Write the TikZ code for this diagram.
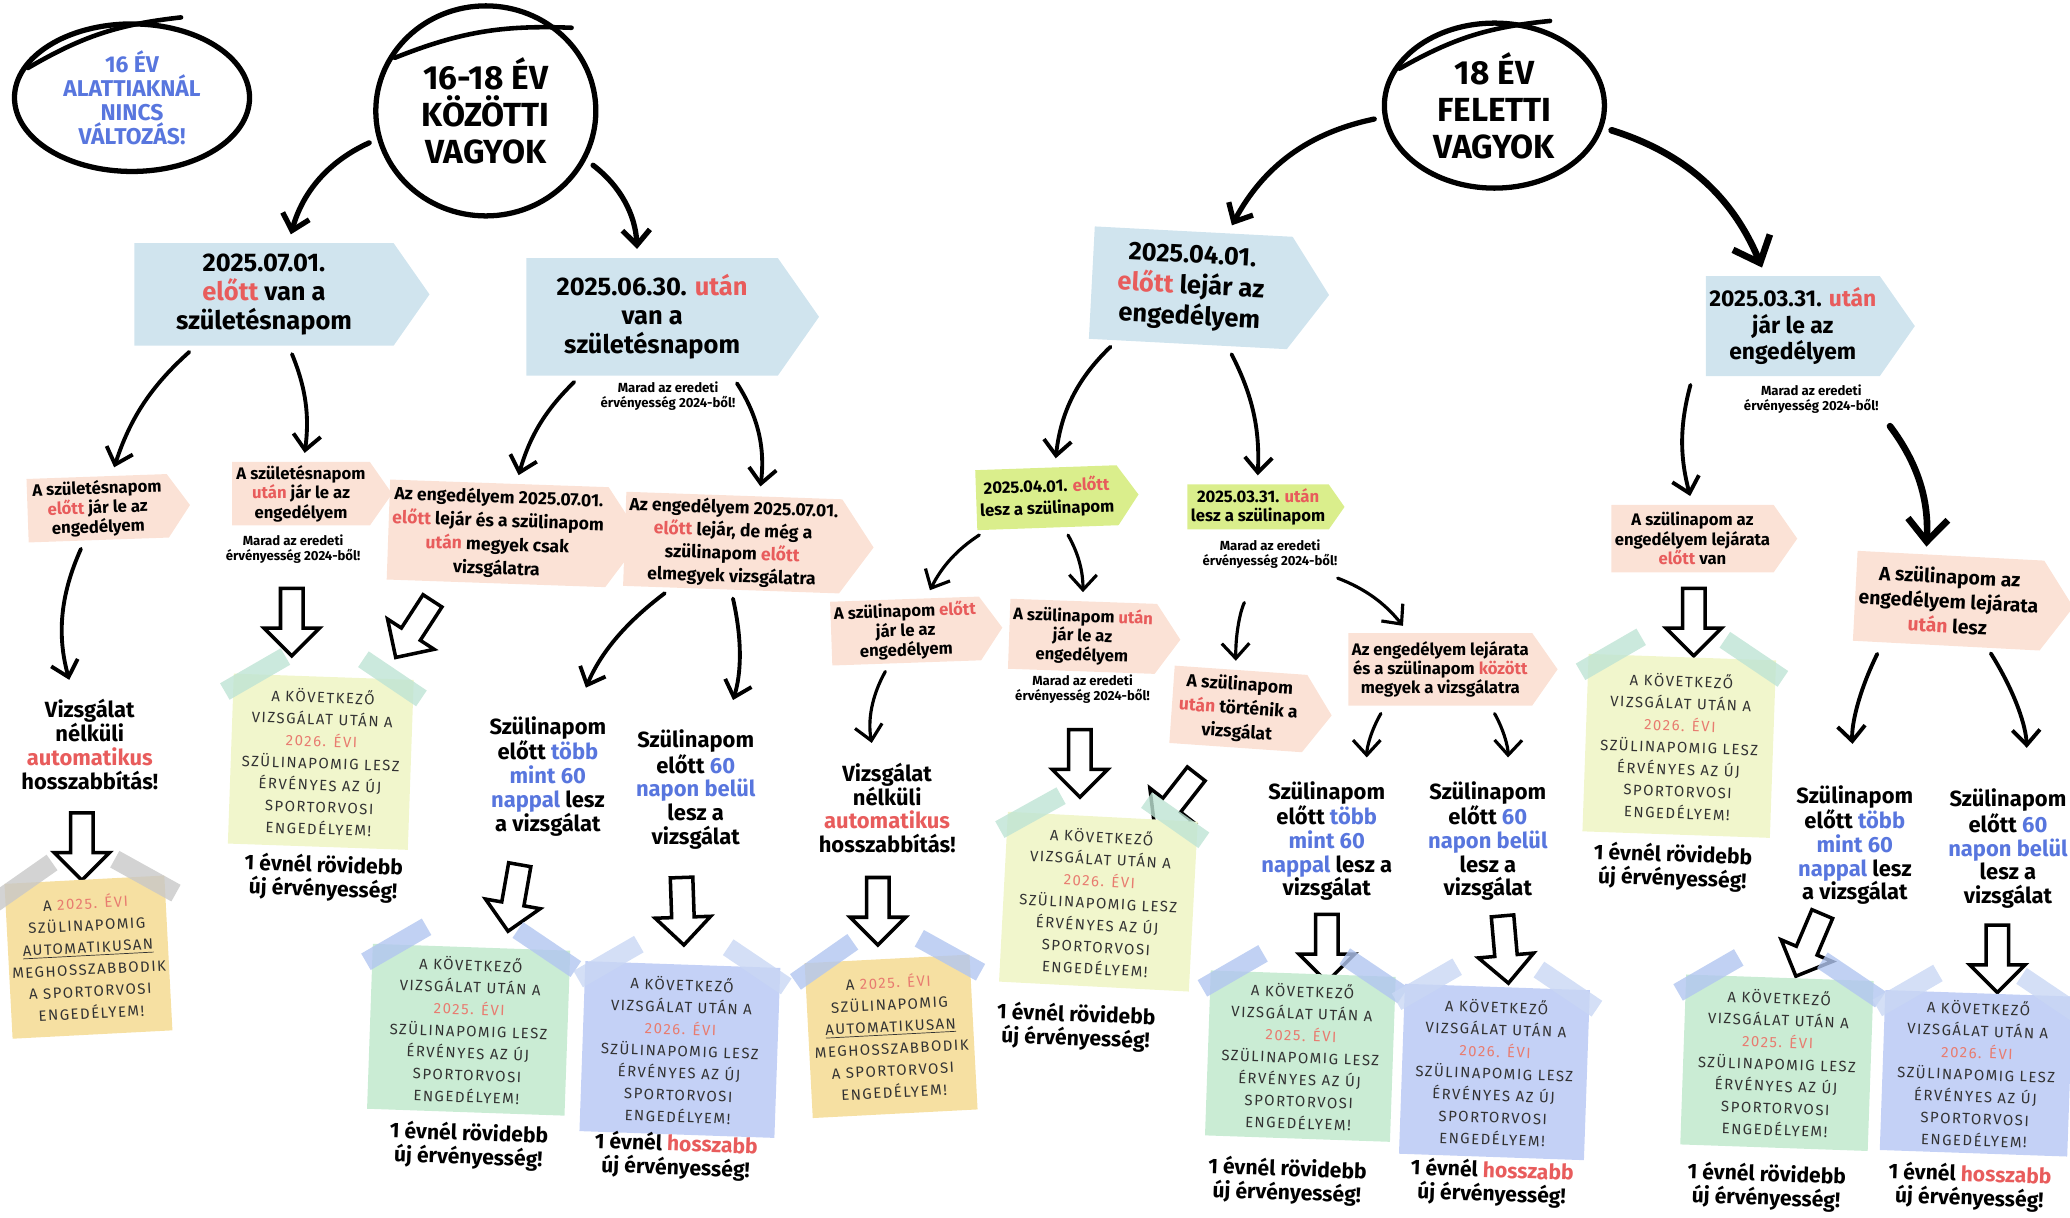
\documentclass[tikz,border=0pt]{standalone}
\usepackage{fontspec}
\setmainfont{Fira Sans}
\newfontfamily\notefont[LetterSpace=10]{Fira Sans}
\usetikzlibrary{shapes.geometric,shapes.symbols,shapes.arrows,arrows.meta,calc}

\definecolor{tagblue}{RGB}{208,228,238}
\definecolor{tagpink}{RGB}{251,226,214}
\definecolor{taglime}{RGB}{218,238,140}
\definecolor{hred}{RGB}{232,92,92}
\definecolor{hblue}{RGB}{88,118,222}
\definecolor{notered}{RGB}{232,124,112}
\definecolor{noteorange}{RGB}{246,224,162}
\definecolor{notelime}{RGB}{241,246,204}
\definecolor{notegreen}{RGB}{202,236,212}
\definecolor{noteblue}{RGB}{196,209,246}
\definecolor{tapemint}{RGB}{190,228,212}
\definecolor{tapeblue}{RGB}{178,198,240}
\definecolor{tapegray}{RGB}{200,200,200}

\newcommand\piros[1]{\textcolor{hred}{#1}}
\newcommand\kek[1]{\textcolor{hblue}{#1}}
\newcommand\ev[1]{\textcolor{notered}{#1}}
\newcommand\marad{Marad az eredeti\\érvényesség 2024-ből!}
\newcommand\kovetkezo[1]{A KÖVETKEZŐ\\VIZSGÁLAT UTÁN A\\\ev{#1. ÉVI}\\SZÜLINAPOMIG LESZ\\ÉRVÉNYES AZ ÚJ\\SPORTORVOSI\\ENGEDÉLYEM!}
\newcommand\automat{A \ev{2025. ÉVI}\\SZÜLINAPOMIG\\\underline{AUTOMATIKUSAN}\\MEGHOSSZABBODIK\\A SPORTORVOSI\\ENGEDÉLYEM!}
\newcommand\nelkuli{Vizsgálat\\nélküli\\\piros{automatikus}\\hosszabbítás!}
\newcommand\tobb[1]{Szülinapom\\előtt \kek{több}\\\kek{mint 60}\\#1}
\newcommand\belul{Szülinapom\\előtt \kek{60}\\\kek{napon belül}\\lesz a\\vizsgálat}
\newcommand\rovidebb{1 évnél rövidebb\\új érvényesség!}
\newcommand\hosszabb{1 évnél \piros{hosszabb}\\új érvényesség!}
% two strips of tape on the top corners of a note
\newcommand\tapes[3]{%
  \node [strip=#2, rotate=#3+32] at ($(#1.north west)!0.12!(#1.north east)$) {};
  \node [strip=#2, rotate=#3-32] at ($(#1.north west)!0.88!(#1.north east)$) {};}

\tikzset{
  ring/.style={ellipse, draw, line width=3pt, align=center, inner sep=0pt,
    font=\fontsize{19}{21}\selectfont\bfseries},
  overshoot/.style={line width=2.6pt, line cap=round},
  signpost/.style={signal, signal to=east, signal pointer angle=110, align=center, inner sep=2pt},
  bluetag/.style={signpost, fill=tagblue, font=\fontsize{14.5}{16.5}\selectfont\bfseries},
  pinktag/.style={signpost, fill=tagpink, font=\fontsize{9.5}{11}\selectfont\bfseries},
  limetag/.style={signpost, fill=taglime, font=\fontsize{9.5}{11}\selectfont\bfseries},
  bigtext/.style={align=center, font=\fontsize{12.5}{13.5}\selectfont\bfseries},
  result/.style={align=center, rotate=-2, font=\fontsize{12}{13.5}\selectfont\bfseries},
  keep/.style={align=center, font=\fontsize{7.5}{8.5}\selectfont\bfseries},
  sticky/.style={fill=#1, align=center, inner sep=0pt, text=black!80,
    font=\notefont\fontsize{8.5}{12.5}\selectfont},
  strip/.style={fill=#1, fill opacity=0.8, minimum width=1.4cm, minimum height=0.38cm, inner sep=0pt},
  hollow/.style={single arrow, draw, line width=2pt, fill=white, inner xsep=0pt, inner ysep=0.19cm,
    minimum height=1.35cm, single arrow head extend=0.33cm, single arrow tip angle=90},
  arr/.style={-{Straight Barb[length=3mm,width=5.5mm]}, line width=2.2pt, line cap=round,
    shorten <=5pt, shorten >=5pt},
  bigarr/.style={arr, -{Straight Barb[length=4.5mm,width=8mm]}, line width=3.8pt}
}

\begin{document}
\begin{tikzpicture}[x=0.0264cm, y=-0.0264cm]
  \useasboundingbox (0,0) rectangle (1568,922);

  % age groups
  \node (c1) at (100,74) [ring, text=hblue, font=\fontsize{13}{13.5}\selectfont\bfseries,
    minimum width=4.7cm, minimum height=2.95cm] {16 ÉV\\ALATTIAKNÁL\\NINCS\\VÁLTOZÁS!};
  \node (c2) at (368,84) [ring, minimum width=4.4cm, minimum height=4.2cm] {16-18 ÉV\\KÖZÖTTI\\VAGYOK};
  \node (c3) at (1132,80) [ring, minimum width=4.4cm, minimum height=3.3cm] {18 ÉV\\FELETTI\\VAGYOK};
  \draw [overshoot] ($(c1.165)+(5,0)$) to[bend left=12] ($(c1.62)+(8,-6)$);
  \draw [overshoot] ($(c2.150)+(4,2)$) to[bend left=12] ($(c2.45)+(6,-4)$);
  \draw [overshoot] ($(c3.160)+(5,0)$) to[bend left=12] ($(c3.60)+(8,-5)$);

  % first split
  \node (b1) at (200,223) [bluetag, minimum width=5.9cm, minimum height=2.05cm]
    {2025.07.01.\\\piros{előtt} van a\\születésnapom};
  \node (b2) at (494,240) [bluetag, minimum width=5.85cm, minimum height=2.35cm]
    {2025.06.30. \piros{után}\\van a\\születésnapom};
  \node (b3) at (902,218) [bluetag, rotate=-3, font=\fontsize{14.5}{17.5}\selectfont\bfseries,
    minimum width=4.75cm, minimum height=2.25cm] {2025.04.01.\\\piros{előtt} lejár az\\engedélyem};
  \node (b4) at (1358,247) [bluetag, font=\fontsize{13}{15}\selectfont\bfseries,
    minimum width=4.1cm, minimum height=2cm] {2025.03.31. \piros{után}\\jár le az\\engedélyem};
  \draw [arr, line width=3pt] (c2) to[bend right=25] (b1);
  \draw [arr, line width=3pt] (c2) to[bend left=25] (b2);
  \draw [arr, line width=3pt] (c3) to[bend right=25] (b3);
  \draw [bigarr] (c3) to[bend left=25] (b4);

  % notes under tags
  \node (k1) at (222,416) [keep] {\marad};
  \node (k2) at (506,300) [keep] {\marad};
  \node (k3) at (962,420) [keep] {\marad};
  \node (k4) at (820,522) [keep] {\marad};
  \node (k5) at (1372,302) [keep] {\marad};

  % 16-18, before
  \node (p1) at (74,385) [pinktag, rotate=2, minimum width=3.25cm, minimum height=1.27cm]
    {A születésnapom\\\piros{előtt} jár le az\\engedélyem};
  \node (p2) at (228,374) [pinktag, minimum width=3.2cm, minimum height=1.27cm]
    {A születésnapom\\\piros{után} jár le az\\engedélyem};
  \draw [arr] (b1) to[bend right=15] (p1);
  \draw [arr] (b1) to[bend left=15] (p2);

  % 16-18, after
  \node (p3) at (377,404) [pinktag, rotate=-2, font=\fontsize{10}{13.5}\selectfont\bfseries,
    minimum width=4.3cm, minimum height=2cm]
    {Az engedélyem 2025.07.01.\\\piros{előtt} lejár és a szülinapom\\\piros{után} megyek csak\\vizsgálatra};
  \node (p4) at (555,411) [pinktag, rotate=-2, font=\fontsize{10}{13}\selectfont\bfseries,
    minimum width=4.45cm, minimum height=1.8cm]
    {Az engedélyem 2025.07.01.\\\piros{előtt} lejár, de még a\\szülinapom \piros{előtt}\\elmegyek vizsgálatra};
  \draw [arr] (b2) to[bend right=15] (p3);
  \draw [arr] ([xshift=1.6cm]b2.south) to[bend left=20] ([xshift=0.5cm]p4.north);

  \node (t1) at (68,564) [bigtext] {\nelkuli};
  \node (t2) at (415,588) [bigtext] {\tobb{\kek{nappal} lesz\\a vizsgálat}};
  \node (t3) at (527,598) [bigtext] {\belul};
  \draw [arr, shorten >=8pt] (p1) to[bend right=20] (t1);
  \draw [arr, shorten >=14pt] (p4) to[bend right=15] (t2);
  \draw [arr, shorten >=14pt] (p4.south) to[bend left=15] ([xshift=0.6cm]t3.north);

  \node (h1) at (62,637) [hollow, rotate=-90] {};
  \node (h2) at (221,467) [hollow, rotate=-90] {};
  \node (h3) at (316,473) [hollow, rotate=-123] {};
  \node (h4) at (390,676) [hollow, rotate=-100] {};
  \node (h5) at (517,686) [hollow, rotate=-88] {};

  \node (n1) at (67,725) [sticky=noteorange, rotate=3, minimum width=3.2cm, minimum height=3.1cm] {\automat};
  \tapes{n1}{tapegray}{3}
  \node (n2) at (243,577) [sticky=notelime, rotate=-2, minimum width=3.6cm, minimum height=3.4cm] {\kovetkezo{2026}};
  \tapes{n2}{tapemint}{-2}
  \node (n3) at (355,780) [sticky=notegreen, rotate=-2, minimum width=3.95cm, minimum height=3.3cm] {\kovetkezo{2025}};
  \tapes{n3}{tapeblue}{-2}
  \node (n4) at (515,795) [sticky=noteblue, rotate=-2, minimum width=3.9cm, minimum height=3.4cm] {\kovetkezo{2026}};
  \tapes{n4}{tapeblue!70}{-2}

  \node (r1) at (245,665) [result] {\rovidebb};
  \node (r2) at (355,868) [result] {\rovidebb};
  \node (r3) at (512,876) [result] {\hosszabb};

  % over 18, before
  \node (g1) at (793,377) [limetag, rotate=2, font=\fontsize{9.5}{12.5}\selectfont\bfseries,
    minimum width=3cm, minimum height=1.2cm] {2025.04.01. \piros{előtt}\\lesz a szülinapom};
  \node (g2) at (953,384) [limetag, minimum width=2.6cm, minimum height=0.9cm]
    {2025.03.31. \piros{után}\\lesz a szülinapom};
  \draw [arr] (b3) to[bend right=20] (g1);
  \draw [arr] (b3) to[bend left=15] (g2);

  \node (p5) at (686,478) [pinktag, rotate=2, minimum width=3.1cm, minimum height=1.25cm]
    {A szülinapom \piros{előtt}\\jár le az\\engedélyem};
  \node (p6) at (820,482) [pinktag, rotate=-2, minimum width=3.1cm, minimum height=1.4cm]
    {A szülinapom \piros{után}\\jár le az\\engedélyem};
  \node (p7) at (938,537) [pinktag, rotate=-4, font=\fontsize{10}{13.5}\selectfont\bfseries,
    minimum width=3.2cm, minimum height=1.55cm] {A szülinapom\\\piros{után} történik a\\vizsgálat};
  \node (p8) at (1091,507) [pinktag, minimum width=3.95cm, minimum height=1.45cm]
    {Az engedélyem lejárata\\és a szülinapom \piros{között}\\megyek a vizsgálatra};
  \draw [arr, line width=1.8pt] (g1) to[bend right=15] (p5);
  \draw [arr, line width=1.8pt] (g1) to[bend left=15] (p6);
  \draw [arr, line width=1.8pt, shorten <=18pt] (k3) to[bend right=15] (p7);
  \draw [arr, line width=1.8pt] (k3) to[bend left=15] (p8);

  \node (t4) at (672,612) [bigtext] {\nelkuli};
  \node (t5) at (1005,637) [bigtext] {\tobb{\kek{nappal} lesz a\\vizsgálat}};
  \node (t6) at (1127,637) [bigtext] {\belul};
  \draw [arr, line width=1.8pt, shorten >=8pt] (p5) to[bend right=20] (t4);
  \draw [arr, line width=1.8pt, shorten >=10pt] ([xshift=-1.1cm]p8.south) to[bend right=15] ([xshift=0.8cm]t5.north);
  \draw [arr, line width=1.8pt, shorten >=10pt] ([xshift=1cm]p8.south) to[bend left=15] ([xshift=0.4cm]t6.north);

  \node (h6) at (665,686) [hollow, rotate=-90] {};
  \node (h7) at (818,574) [hollow, rotate=-90] {};
  \node (h8) at (893,603) [hollow, rotate=-128] {};
  \node (h9) at (1005,714) [hollow, rotate=-90] {};
  \node (h10) at (1140,715) [hollow, rotate=-85] {};

  \node (n5) at (675,785) [sticky=noteorange, rotate=3, minimum width=3.3cm, minimum height=3.1cm] {\automat};
  \tapes{n5}{tapeblue}{3}
  \node (n6) at (832,683) [sticky=notelime, rotate=-3, minimum width=3.8cm, minimum height=3.4cm] {\kovetkezo{2026}};
  \tapes{n6}{tapemint}{-3}
  \node (n7) at (985,800) [sticky=notegreen, rotate=-2, minimum width=3.7cm, minimum height=3.3cm] {\kovetkezo{2025}};
  \tapes{n7}{tapeblue}{-2}
  \node (n8) at (1132,812) [sticky=noteblue, rotate=-2, minimum width=3.7cm, minimum height=3.4cm] {\kovetkezo{2026}};
  \tapes{n8}{tapeblue!70}{-2}

  \node (r4) at (815,778) [result] {\rovidebb};
  \node (r5) at (975,895) [result] {\rovidebb};
  \node (r6) at (1130,896) [result] {\hosszabb};

  % over 18, after
  \node (p9) at (1282,408) [pinktag, minimum width=3.65cm, minimum height=1.35cm]
    {A szülinapom az\\engedélyem lejárata\\\piros{előtt} van};
  \node (p10) at (1476,455) [pinktag, rotate=-3, font=\fontsize{11}{14}\selectfont\bfseries,
    minimum width=4.3cm, minimum height=1.8cm] {A szülinapom az\\engedélyem lejárata\\\piros{után} lesz};
  \draw [arr] ([xshift=-2cm]b4.south) to[bend right=15] (p9.north);
  \draw [bigarr] (k5.south east) to[bend left=20] ([xshift=-0.5cm]p10.north);

  \node (t7) at (1405,640) [bigtext] {\tobb{\kek{nappal} lesz\\a vizsgálat}};
  \node (t8) at (1521,643) [bigtext] {\belul};
  \draw [arr, shorten >=20pt] ([xshift=-1.3cm]p10.south) to[bend right=15] (t7.north);
  \draw [arr, shorten >=20pt] ([xshift=0.8cm]p10.south) to[bend left=15] ([xshift=0.4cm]t8.north);

  \node (h11) at (1283,467) [hollow, rotate=-90] {};
  \node (h12) at (1372,712) [hollow, rotate=-113] {};
  \node (h13) at (1513,722) [hollow, rotate=-90] {};

  \node (n9) at (1272,565) [sticky=notelime, rotate=-2, minimum width=3.75cm, minimum height=3.55cm] {\kovetkezo{2026}};
  \tapes{n9}{tapemint}{-2}
  \node (n10) at (1346,805) [sticky=notegreen, rotate=-2, minimum width=3.75cm, minimum height=3.4cm] {\kovetkezo{2025}};
  \tapes{n10}{tapeblue}{-2}
  \node (n11) at (1497,813) [sticky=noteblue, rotate=-2, minimum width=3.75cm, minimum height=3.2cm] {\kovetkezo{2026}};
  \tapes{n11}{tapeblue!70}{-2}

  \node (r7) at (1267,657) [result] {\rovidebb};
  \node (r8) at (1338,899) [result] {\rovidebb};
  \node (r9) at (1492,899) [result] {\hosszabb};
\end{tikzpicture}
\end{document}
